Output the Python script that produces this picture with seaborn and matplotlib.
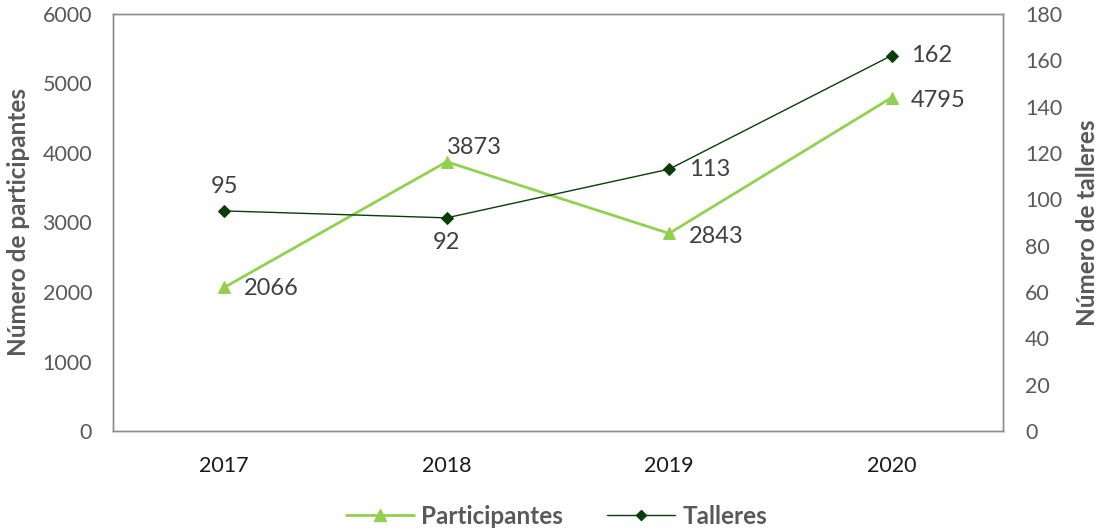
import pandas as pd
import matplotlib.pyplot as plt
import seaborn as sns

years = ["2017", "2018", "2019", "2020"]
participantes = [2066, 3873, 2843, 4795]
talleres = [95, 92, 113, 162]

df = pd.DataFrame({"year": years, "participantes": participantes, "talleres": talleres})

sns.set_style("white")
plt.rcParams['font.family'] = ['Lato', 'DejaVu Sans']

light = "#92D050"
dark = "#0B3D0B"
txt = "#404040"
lab = "#595959"

fig = plt.figure(figsize=(11.02, 5.31), dpi=100)
ax = fig.add_axes([0.1025, 0.188, 0.8075, 0.786])
ax2 = ax.twinx()

sns.lineplot(x="year", y="participantes", data=df, ax=ax, color=light, linewidth=2,
             marker="^", markersize=9, markeredgecolor=light, sort=False, legend=False)
sns.lineplot(x="year", y="talleres", data=df, ax=ax2, color=dark, linewidth=1,
             marker="D", markersize=6, markeredgecolor=dark, sort=False, legend=False)

ax.set_xlim(-0.5, 3.5)
ax.set_ylim(0, 6000)
ax.set_yticks(range(0, 6001, 1000))
ax2.set_ylim(0, 180)
ax2.set_yticks(range(0, 181, 20))

ax.set_xlabel("")
ax.set_ylabel("Número de participantes", fontsize=17.5, fontweight="bold", color=lab, labelpad=9)
ax2.set_ylabel("Número de talleres", fontsize=17.5, fontweight="bold", color=lab, labelpad=10)
ax.tick_params(axis="y", labelsize=15.5, labelcolor=lab, length=0, pad=15)
ax2.tick_params(axis="y", labelsize=15.5, labelcolor=lab, length=0, pad=16)
ax.tick_params(axis="x", labelsize=15.5, labelcolor="#1a1a1a", length=0, pad=18)
for a in (ax, ax2):
    for s in a.spines.values():
        s.set_color("#8c8c8c")
        s.set_linewidth(1)

# etiquetas de datos
p_off = [(14, -1), (0, 3), (14, -2), (14, -2)]
p_va = ["center", "bottom", "center", "center"]
for i, v in enumerate(participantes):
    ax.annotate(str(v), (i, v), xytext=p_off[i], textcoords="offset points",
                ha="left", va=p_va[i], fontsize=17, color=txt)

t_off = [(0, 10), (0, -10), (14, 0), (14, 0)]
t_va = ["bottom", "top", "center", "center"]
t_ha = ["center", "center", "left", "left"]
for i, v in enumerate(talleres):
    ax2.annotate(str(v), (i, v), xytext=t_off[i], textcoords="offset points",
                 ha=t_ha[i], va=t_va[i], fontsize=17, color=txt)

h1 = plt.Line2D([], [], color=light, linewidth=2, marker="^", markersize=8)
h2 = plt.Line2D([], [], color=dark, linewidth=1, marker="D", markersize=5)
leg = fig.legend([h1, h2], ["Participantes", "Talleres"], loc="lower center",
                 bbox_to_anchor=(0.505, -0.035), ncol=2, frameon=False,
                 prop={"size": 17.5, "weight": "bold"}, handlelength=2.8,
                 handletextpad=0.3, columnspacing=1.8)
for t in leg.get_texts():
    t.set_color(lab)

fig.savefig("out.png", dpi=100)
